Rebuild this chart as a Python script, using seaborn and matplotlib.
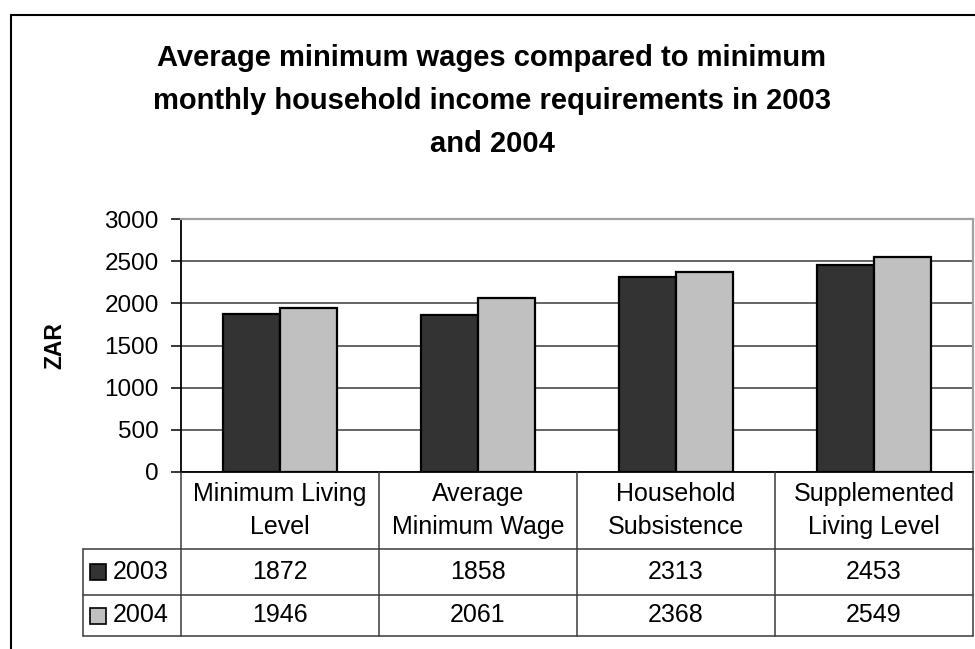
import numpy as np
import pandas as pd
import matplotlib
matplotlib.use("Agg")
import matplotlib.pyplot as plt
from matplotlib.lines import Line2D
from matplotlib.patches import Rectangle
from matplotlib.transforms import blended_transform_factory
import seaborn as sns

# Chart data
categories = ["Minimum Living\nLevel", "Average\nMinimum Wage",
              "Household\nSubsistence", "Supplemented\nLiving Level"]
years = ["2003", "2004"]
values_2003 = [1872, 1858, 2313, 2453]
values_2004 = [1946, 2061, 2368, 2549]
yticks = [0, 500, 1000, 1500, 2000, 2500, 3000]
colors = ["#333333", "#c0c0c0"]
title = ("Average minimum wages compared to minimum\n"
         "monthly household income requirements in 2003\n"
         "and 2004")
ylabel = "ZAR"

series = {years[0]: values_2003, years[1]: values_2004}
df = pd.DataFrame({
    "category": categories * len(years),
    "year": [y for y in years for _ in categories],
    "value": values_2003 + values_2004,
})

sns.set_theme(style="white")
plt.rcParams["font.family"] = ["Liberation Sans", "DejaVu Sans"]

W, H = 975, 649
fig = plt.figure(figsize=(W / 100, H / 100), dpi=100)

TABLE_FS = 18
TICK_FS = 17.5


def fx(px):
    return px / W


def fy(py):
    return 1 - py / H


# plot area (pixel box)
L, R, T, B = 181, 973, 219, 472
ax = fig.add_axes([fx(L), fy(B), fx(R) - fx(L), fy(T) - fy(B)])
sns.barplot(data=df, x="category", y="value", hue="year", order=categories,
            hue_order=years, palette=colors, width=0.572, saturation=1,
            edgecolor="black", linewidth=1.6, ax=ax, legend=False)

ax.set_xlim(-0.5, len(categories) - 0.5)
ax.set_ylim(0, 3000)
ax.set_yticks(yticks)
ax.set_xticks([])
ax.set_xlabel("")
ax.set_ylabel("")
ax.yaxis.grid(True, color="#3a3a3a", linewidth=1.1)
ax.set_axisbelow(True)
for side in ("left", "bottom"):
    ax.spines[side].set_color("black")
    ax.spines[side].set_linewidth(1.3)
for side in ("top", "right"):
    ax.spines[side].set_color("#a0a0a0")
    ax.spines[side].set_linewidth(1.6)
ax.tick_params(axis="y", direction="out", length=7, width=1.1, color="black",
               labelsize=TICK_FS, pad=9, left=True)
for lab in ax.get_yticklabels():
    lab.set_color("black")

fig.text(fx(55), fy((T + B) / 2), ylabel, rotation=90, ha="center",
         va="center", fontsize=16.5, fontweight="bold", color="black")

fig.text(fx(492), fy(101), title, ha="center", va="center", fontsize=21,
         fontweight="bold", linespacing=1.66, color="black")

# data table under the axis
tr = blended_transform_factory(ax.transData, fig.transFigure)
row_y = [B, 549, 595, 636]
leg_x = -0.995
line_kw = dict(color="#3a3a3a", linewidth=1.1, transform=tr, clip_on=False)

for yy in row_y[1:]:
    fig.add_artist(Line2D([leg_x, len(categories) - 0.5], [fy(yy), fy(yy)], **line_kw))
for i in range(len(categories) + 1):
    fig.add_artist(Line2D([i - 0.5, i - 0.5], [fy(B), fy(row_y[-1])], **line_kw))
fig.add_artist(Line2D([leg_x, leg_x], [fy(row_y[1]), fy(row_y[-1])], **line_kw))

for i, cat in enumerate(categories):
    fig.text(i, fy((row_y[0] + row_y[1]) / 2), cat, transform=tr, ha="center",
             va="center", fontsize=TABLE_FS, linespacing=1.43, color="black")

for r, (yr, col) in enumerate(zip(years, colors)):
    yc = (row_y[r + 1] + row_y[r + 2]) / 2
    for i, v in enumerate(series[yr]):
        fig.text(i, fy(yc), f"{v}", transform=tr, ha="center", va="center",
                 fontsize=TABLE_FS, color="black")
    fig.add_artist(Rectangle((fx(90), fy(yc + 8)), fx(16), 16 / H,
                             transform=fig.transFigure, facecolor=col,
                             edgecolor="black", linewidth=1.2))
    fig.text(fx(113), fy(yc), yr, ha="left", va="center", fontsize=TABLE_FS,
             color="black")

# outer chart frame
frame_kw = dict(color="black", linewidth=1.5, transform=fig.transFigure)
fig.add_artist(Line2D([fx(11), fx(11)], [0, fy(15)], **frame_kw))
fig.add_artist(Line2D([fx(11), 1], [fy(15), fy(15)], **frame_kw))

fig.savefig("out.png", dpi=100)
